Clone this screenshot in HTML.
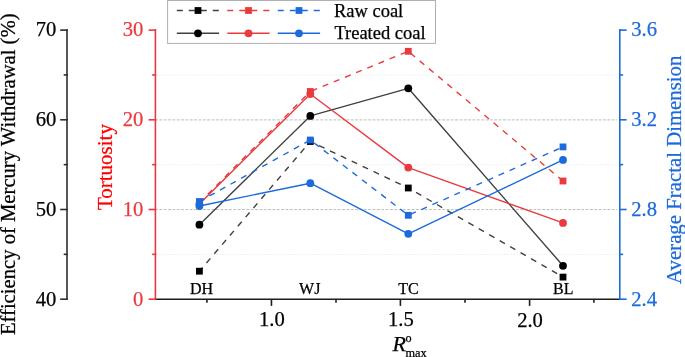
<!DOCTYPE html>
<html><head><meta charset="utf-8">
<style>
html,body{margin:0;padding:0;background:#fff;}
body{width:685px;height:357px;overflow:hidden;}
svg{display:block;font-family:"Liberation Serif",serif;-webkit-font-smoothing:antialiased;will-change:transform;}
text{stroke-width:0.25px;}
</style></head>
<body>
<svg width="685" height="357" viewBox="0 0 685 357">
<!-- gridlines -->
<g fill="none">
<line x1="156" y1="75.1" x2="619" y2="75.1" stroke="#f1f1f1" stroke-width="1" stroke-dasharray="2 1"/>
<line x1="156" y1="164.8" x2="619" y2="164.8" stroke="#f1f1f1" stroke-width="1" stroke-dasharray="2 1"/>
<line x1="156" y1="254.5" x2="619" y2="254.5" stroke="#f1f1f1" stroke-width="1" stroke-dasharray="2 1"/>
<line x1="156" y1="119.9" x2="617" y2="119.9" stroke="#bdbdbd" stroke-width="1" stroke-dasharray="2.9 1.45" stroke-dashoffset="1"/>
<line x1="156" y1="209.6" x2="617" y2="209.6" stroke="#bdbdbd" stroke-width="1" stroke-dasharray="2.9 1.45" stroke-dashoffset="1"/>
</g>

<!-- data -->
<g fill="none" stroke="#404040" stroke-width="1.4" stroke-dasharray="6.03 6.03">
<line x1="199.4" y1="271.2" x2="310.3" y2="141.5" stroke-dashoffset="1.2"/>
<line x1="310.3" y1="141.5" x2="408.3" y2="188" stroke-dashoffset="2.4"/>
<line x1="408.3" y1="188" x2="563" y2="277.1" stroke-dashoffset="3.1"/>
</g>
<rect x="196" y="267.8" width="6.8" height="6.8" fill="#000"/>
<rect x="306.9" y="138.1" width="6.8" height="6.8" fill="#000"/>
<rect x="404.9" y="184.6" width="6.8" height="6.8" fill="#000"/>
<rect x="559.6" y="273.7" width="6.8" height="6.8" fill="#000"/>
<polyline points="199.4,224.7 310.3,115.9 408.3,88.3 563,265.8" fill="none" stroke="#404040" stroke-width="1.4" stroke-linejoin="round"/>
<circle cx="199.4" cy="224.7" r="3.9" fill="#000"/>
<circle cx="310.3" cy="115.9" r="3.9" fill="#000"/>
<circle cx="408.3" cy="88.3" r="3.9" fill="#000"/>
<circle cx="563" cy="265.8" r="3.9" fill="#000"/>
<g fill="none" stroke="#e93a3f" stroke-width="1.4" stroke-dasharray="6.03 6.03">
<line x1="199.4" y1="202.6" x2="310.3" y2="91.5" stroke-dashoffset="0.2"/>
<line x1="310.3" y1="91.5" x2="408.3" y2="51.3" stroke-dashoffset="-1.3"/>
<line x1="408.3" y1="51.3" x2="563" y2="181" stroke-dashoffset="-2.8"/>
</g>
<rect x="196" y="199.2" width="6.8" height="6.8" fill="#e93a3f"/>
<rect x="306.9" y="88.1" width="6.8" height="6.8" fill="#e93a3f"/>
<rect x="404.9" y="47.9" width="6.8" height="6.8" fill="#e93a3f"/>
<rect x="559.6" y="177.6" width="6.8" height="6.8" fill="#e93a3f"/>
<polyline points="199.4,204 310.3,94 408.3,167.6 563,222.9" fill="none" stroke="#e93a3f" stroke-width="1.4" stroke-linejoin="round"/>
<circle cx="199.4" cy="204" r="3.9" fill="#e93a3f"/>
<circle cx="310.3" cy="94" r="3.9" fill="#e93a3f"/>
<circle cx="408.3" cy="167.6" r="3.9" fill="#e93a3f"/>
<circle cx="563" cy="222.9" r="3.9" fill="#e93a3f"/>
<g fill="none" stroke="#1c6adb" stroke-width="1.4" stroke-dasharray="6.03 6.03">
<line x1="199.4" y1="201.5" x2="310.3" y2="140" stroke-dashoffset="0.6"/>
<line x1="310.3" y1="140" x2="408.3" y2="215.3" stroke-dashoffset="-4.9"/>
<line x1="408.3" y1="215.3" x2="563" y2="146.9" stroke-dashoffset="-2.2"/>
</g>
<rect x="196" y="198.1" width="6.8" height="6.8" fill="#1c6adb"/>
<rect x="306.9" y="136.6" width="6.8" height="6.8" fill="#1c6adb"/>
<rect x="404.9" y="211.9" width="6.8" height="6.8" fill="#1c6adb"/>
<rect x="559.6" y="143.5" width="6.8" height="6.8" fill="#1c6adb"/>
<polyline points="199.4,206 310.3,183.2 408.3,233.8 563,159.9" fill="none" stroke="#1c6adb" stroke-width="1.4" stroke-linejoin="round"/>
<circle cx="199.4" cy="206" r="3.9" fill="#1c6adb"/>
<circle cx="310.3" cy="183.2" r="3.9" fill="#1c6adb"/>
<circle cx="408.3" cy="233.8" r="3.9" fill="#1c6adb"/>
<circle cx="563" cy="159.9" r="3.9" fill="#1c6adb"/>

<!-- category labels -->
<g font-size="16" fill="#000" stroke="#000" text-anchor="middle">
<text x="201.6" y="293.8">DH</text>
<text x="309.7" y="293.8">WJ</text>
<text x="408.5" y="293.8">TC</text>
<text x="563.2" y="294.3">BL</text>
</g>

<!-- bottom axis -->
<g stroke="#1e1e1e" stroke-width="1.6" fill="none">
<line x1="155.5" y1="299.2" x2="619.5" y2="299.2"/>
<line x1="271.45" y1="299.2" x2="271.45" y2="305.9"/>
<line x1="400.4" y1="299.2" x2="400.4" y2="305.9"/>
<line x1="529.6" y1="299.2" x2="529.6" y2="305.9"/>
<line x1="206.9" y1="299.2" x2="206.9" y2="302.7"/>
<line x1="336" y1="299.2" x2="336" y2="302.7"/>
<line x1="465" y1="299.2" x2="465" y2="302.7"/>
<line x1="593.9" y1="299.2" x2="593.9" y2="302.7"/>
</g>
<g font-size="20.6" fill="#000" stroke="#000" text-anchor="middle">
<text x="271.9" y="326.4">1.0</text>
<text x="400.9" y="326.4">1.5</text>
<text x="530" y="326.6">2.0</text>
</g>
<!-- left axis -->
<g stroke="#2e2e2e" stroke-width="1.6" fill="none" stroke-linecap="square">
<line x1="67" y1="30.1" x2="67" y2="299.2"/>
<line x1="67" y1="30.1" x2="61" y2="30.1"/>
<line x1="67" y1="74.95" x2="64.5" y2="74.95"/>
<line x1="67" y1="119.8" x2="61" y2="119.8"/>
<line x1="67" y1="164.65" x2="64.5" y2="164.65"/>
<line x1="67" y1="209.5" x2="61" y2="209.5"/>
<line x1="67" y1="254.35" x2="64.5" y2="254.35"/>
<line x1="67" y1="299.2" x2="61" y2="299.2"/>
</g>
<g font-size="20.6" fill="#000" stroke="#000" text-anchor="end">
<text x="56.4" y="36.4">70</text>
<text x="56.4" y="126.1">60</text>
<text x="56.4" y="215.8">50</text>
<text x="56.4" y="305.5">40</text>
</g>
<!-- red axis -->
<g stroke="#e93a3f" stroke-width="1.6" fill="none" stroke-linecap="square">
<line x1="155.4" y1="30.1" x2="155.4" y2="299.2"/>
<line x1="155.4" y1="30.1" x2="149.4" y2="30.1"/>
<line x1="155.4" y1="74.95" x2="152.9" y2="74.95"/>
<line x1="155.4" y1="119.8" x2="149.4" y2="119.8"/>
<line x1="155.4" y1="164.65" x2="152.9" y2="164.65"/>
<line x1="155.4" y1="209.5" x2="149.4" y2="209.5"/>
<line x1="155.4" y1="254.35" x2="152.9" y2="254.35"/>
<line x1="155.4" y1="299.2" x2="149.4" y2="299.2"/>
</g>
<g font-size="20.6" fill="#e93a3f" stroke="#e93a3f" text-anchor="end">
<text x="143.4" y="36.4">30</text>
<text x="143.4" y="126.1">20</text>
<text x="143.4" y="215.8">10</text>
<text x="143.4" y="305.5">0</text>
</g>
<!-- blue axis -->
<g stroke="#1c6adb" stroke-width="1.6" fill="none" stroke-linecap="square">
<line x1="619.8" y1="30.1" x2="619.8" y2="299.2"/>
<line x1="619.8" y1="30.1" x2="625.8" y2="30.1"/>
<line x1="619.8" y1="74.95" x2="622.3" y2="74.95"/>
<line x1="619.8" y1="119.8" x2="625.8" y2="119.8"/>
<line x1="619.8" y1="164.65" x2="622.3" y2="164.65"/>
<line x1="619.8" y1="209.5" x2="625.8" y2="209.5"/>
<line x1="619.8" y1="254.35" x2="622.3" y2="254.35"/>
<line x1="619.8" y1="299.2" x2="625.8" y2="299.2"/>
</g>
<g font-size="20.6" fill="#1c6adb" stroke="#1c6adb" text-anchor="start">
<text x="631.2" y="36.4">3.6</text>
<text x="631.2" y="126.1">3.2</text>
<text x="631.2" y="215.8">2.8</text>
<text x="631.2" y="305.5">2.4</text>
</g>

<!-- x title -->
<text x="392.4" y="350.5" font-size="22" font-style="italic" fill="#000" stroke="#000">R</text>
<text x="405.6" y="342" font-size="12.2" fill="#000" stroke="#000">o</text>
<text x="405.4" y="356.5" font-size="12.3" fill="#000" stroke="#000">max</text>

<!-- y titles -->
<text transform="translate(15.1,335.1) rotate(-90)" font-size="20.65" fill="#000" stroke="#000">Efficiency of Mercury Withdrawal (%)</text>
<text transform="translate(111.8,210.1) rotate(-90)" font-size="21" fill="#f00" stroke="#f00">Tortuosity</text>
<text transform="translate(681.3,283.9) rotate(-90)" font-size="20.8" fill="#1c6adb" stroke="#1c6adb">Average Fractal Dimension</text>

<!-- legend -->
<rect x="167.6" y="0.5" width="267.9" height="42.9" fill="#fff" stroke="#b0b0b0" stroke-width="1"/>
<g fill="none" stroke-width="1.4">
<line x1="176.8" y1="10.5" x2="219.1" y2="10.5" stroke="#404040" stroke-dasharray="6 6"/>
<line x1="227.3" y1="10.5" x2="269.6" y2="10.5" stroke="#e93a3f" stroke-dasharray="6 6"/>
<line x1="277.8" y1="10.5" x2="320.1" y2="10.5" stroke="#1c6adb" stroke-dasharray="6 6"/>
<line x1="176.8" y1="33.3" x2="219.1" y2="33.3" stroke="#404040"/>
<line x1="227.3" y1="33.3" x2="269.6" y2="33.3" stroke="#e93a3f"/>
<line x1="277.8" y1="33.3" x2="320.1" y2="33.3" stroke="#1c6adb"/>
</g>
<rect x="194.6" y="7.1" width="6.8" height="6.8" fill="#000"/>
<rect x="245.1" y="7.1" width="6.8" height="6.8" fill="#e93a3f"/>
<rect x="295.6" y="7.1" width="6.8" height="6.8" fill="#1c6adb"/>
<circle cx="198" cy="33.3" r="3.9" fill="#000"/>
<circle cx="248.5" cy="33.3" r="3.9" fill="#e93a3f"/>
<circle cx="299" cy="33.3" r="3.9" fill="#1c6adb"/>
<g font-size="18.5" fill="#000" stroke="#000">
<text x="333.9" y="17">Raw coal</text>
<text x="334.4" y="39">Treated coal</text>
</g>
</svg>
</body></html>
